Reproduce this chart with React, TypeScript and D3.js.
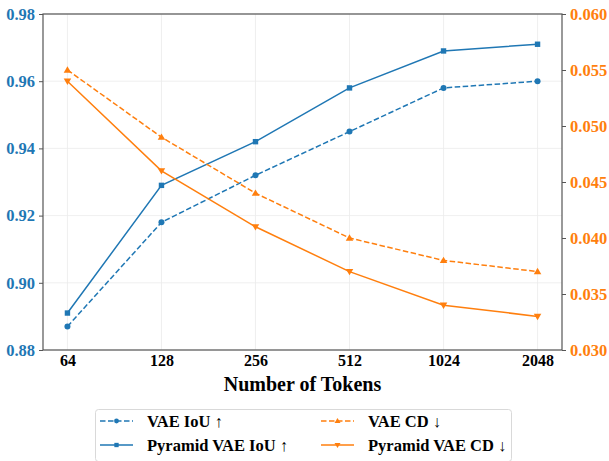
import { useEffect, useRef } from "react";
import * as d3 from "d3";

const tokens = ["64", "128", "256", "512", "1024", "2048"];
const vaeIou = [0.887, 0.918, 0.932, 0.945, 0.958, 0.96];
const pyramidIou = [0.891, 0.929, 0.942, 0.958, 0.969, 0.971];
const vaeCd = [0.055, 0.049, 0.044, 0.04, 0.038, 0.037];
const pyramidCd = [0.054, 0.046, 0.041, 0.037, 0.034, 0.033];
const leftTicks = [0.88, 0.9, 0.92, 0.94, 0.96, 0.98];
const rightTicks = [0.03, 0.035, 0.04, 0.045, 0.05, 0.055, 0.06];

const BLUE = "#1f77b4";
const ORANGE = "#ff7f0e";
const FONT = "Liberation Serif, Times New Roman, Times, serif";

type Series = {
	name: string;
	values: number[];
	color: string;
	dashed: boolean;
	marker: "circle" | "square" | "up" | "down";
	axis: "left" | "right";
};

const series: Series[] = [
	{ name: "VAE IoU ↑", values: vaeIou, color: BLUE, dashed: true, marker: "circle", axis: "left" },
	{ name: "Pyramid VAE IoU ↑", values: pyramidIou, color: BLUE, dashed: false, marker: "square", axis: "left" },
	{ name: "VAE CD ↓", values: vaeCd, color: ORANGE, dashed: true, marker: "up", axis: "right" },
	{ name: "Pyramid VAE CD ↓", values: pyramidCd, color: ORANGE, dashed: false, marker: "down", axis: "right" },
];

const App = () => {
	const svgRef = useRef<SVGSVGElement>(null);

	useEffect(() => {
		if (!svgRef.current) return;
		const width = 609;
		const height = 461;
		const margin = { top: 14, left: 43, right: 47, bottom: 111 };

		const svg = d3.select(svgRef.current);
		svg.selectAll("*").remove();

		const x = d3
			.scalePoint<string>()
			.domain(tokens)
			.range([margin.left, width - margin.right])
			.padding(0.26);
		const yLeft = d3.scaleLinear().domain([0.88, 0.98]).range([height - margin.bottom, margin.top]);
		const yRight = d3.scaleLinear().domain([0.03, 0.06]).range([height - margin.bottom, margin.top]);

		const x0 = margin.left;
		const x1 = width - margin.right;
		const y0 = height - margin.bottom;
		const y1 = margin.top;

		// grille
		const grid = svg.append("g").attr("stroke", "#ebebeb").attr("stroke-width", 0.8);
		tokens.forEach((t) => {
			grid.append("line").attr("x1", x(t)!).attr("x2", x(t)!).attr("y1", y1).attr("y2", y0);
		});
		leftTicks.forEach((v) => {
			grid.append("line").attr("x1", x0).attr("x2", x1).attr("y1", yLeft(v)).attr("y2", yLeft(v));
		});

		const styleText = (sel: d3.Selection<any, unknown, any, any>, size: number, color: string) =>
			sel
				.attr("fill", color)
				.style("font-size", `${size}px`)
				.style("font-weight", "bold")
				.style("font-family", FONT);

		// axes
		const axisColor = "#555";
		const left = svg
			.append("g")
			.attr("transform", `translate(${x0},0)`)
			.call(d3.axisLeft(yLeft).tickValues(leftTicks).tickFormat(d3.format(".2f")).tickSize(4).tickPadding(4));
		styleText(left.selectAll("text"), 16.5, BLUE);

		const right = svg
			.append("g")
			.attr("transform", `translate(${x1},0)`)
			.call(d3.axisRight(yRight).tickValues(rightTicks).tickFormat(d3.format(".3f")).tickSize(4).tickPadding(4));
		styleText(right.selectAll("text"), 16.5, ORANGE);

		const bottom = svg
			.append("g")
			.attr("transform", `translate(0,${y0})`)
			.call(d3.axisBottom(x).tickSize(0).tickPadding(5));
		styleText(bottom.selectAll("text"), 16, "#000");

		[left, right, bottom].forEach((a) => {
			a.selectAll("line").attr("stroke", axisColor);
			a.select(".domain").remove();
		});

		svg
			.append("rect")
			.attr("x", x0)
			.attr("y", y1)
			.attr("width", x1 - x0)
			.attr("height", y0 - y1)
			.attr("fill", "none")
			.attr("stroke", axisColor)
			.attr("stroke-width", 1.2);

		// titre de l'axe x
		styleText(
			svg
				.append("text")
				.attr("x", (x0 + x1) / 2)
				.attr("y", 391)
				.attr("text-anchor", "middle")
				.text("Number of Tokens"),
			20,
			"#000"
		);

		const drawMarker = (g: d3.Selection<SVGGElement, unknown, null, undefined>, s: Series, cx: number, cy: number, size: number) => {
			if (s.marker === "circle") {
				g.append("circle").attr("cx", cx).attr("cy", cy).attr("r", size).attr("fill", s.color);
			} else if (s.marker === "square") {
				g.append("rect")
					.attr("x", cx - size * 0.9)
					.attr("y", cy - size * 0.9)
					.attr("width", size * 1.8)
					.attr("height", size * 1.8)
					.attr("fill", s.color);
			} else {
				const dir = s.marker === "up" ? -1 : 1;
				const r = size * 1.25;
				g.append("path")
					.attr("d", `M${cx},${cy + dir * r} L${cx - r},${cy - dir * r * 0.7} L${cx + r},${cy - dir * r * 0.7} Z`)
					.attr("fill", s.color);
			}
		};

		// séries
		series.forEach((s) => {
			const y = s.axis === "left" ? yLeft : yRight;
			const g = svg.append("g");
			const line = d3
				.line<number>()
				.x((_d, i) => x(tokens[i])!)
				.y((d) => y(d));
			g.append("path")
				.attr("d", line(s.values))
				.attr("fill", "none")
				.attr("stroke", s.color)
				.attr("stroke-width", 1.5)
				.attr("stroke-dasharray", s.dashed ? "5.5,2.5" : null);
			s.values.forEach((v, i) => drawMarker(g, s, x(tokens[i])!, y(v), 3));
		});

		// légende
		const legend = svg.append("g");
		legend
			.append("rect")
			.attr("x", 95.5)
			.attr("y", 409.5)
			.attr("width", 416)
			.attr("height", 52)
			.attr("rx", 3)
			.attr("fill", "#fff")
			.attr("stroke", "#d9d9d9");
		const cols = [100, 321];
		const rows = [421, 445];
		series.forEach((s, i) => {
			const cx = cols[Math.floor(i / 2)];
			const cy = rows[i % 2];
			const g = legend.append("g");
			g.append("line")
				.attr("x1", cx)
				.attr("x2", cx + 33)
				.attr("y1", cy)
				.attr("y2", cy)
				.attr("stroke", s.color)
				.attr("stroke-width", 1.5)
				.attr("stroke-dasharray", s.dashed ? "5.5,2.5" : null);
			drawMarker(g, s, cx + 16.5, cy, 2.4);
			styleText(
				g
					.append("text")
					.attr("x", cx + 47)
					.attr("y", cy + 6)
					.text(s.name),
				16.5,
				"#000"
			);
		});
	}, []);

	return <svg ref={svgRef} width={609} height={461} style={{ display: "block", position: "absolute", left: 0, top: 0 }}></svg>;
};

export default App;
